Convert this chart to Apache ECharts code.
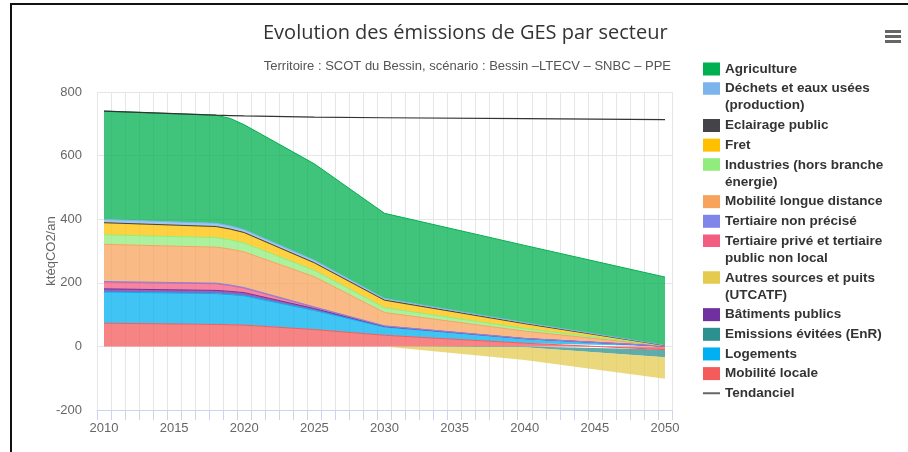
<!DOCTYPE html>
<html>
<head>
<meta charset="utf-8">
<script src="https://cdn.jsdelivr.net/npm/echarts@6/dist/echarts.min.js"></script>
<style>
  html, body { margin: 0; padding: 0; background: #fff; }
  #main { position: absolute; left: 0; top: 0; width: 908px; height: 452px; }
  .frame { position: absolute; left: 10px; top: 3px; right: 0; bottom: 0; border-left: 2px solid #111; border-top: 2px solid #111; pointer-events: none; }
</style>
</head>
<body>
<div id="main"></div>
<div class="frame"></div>
<script>
// axe des années (catégories)
const categories = ['2010', '2011', '2012', '2013', '2014', '2015', '2016', '2017', '2018', '2019',
  '2020', '2021', '2022', '2023', '2024', '2025', '2026', '2027', '2028', '2029', '2030',
  '2031', '2032', '2033', '2034', '2035', '2036', '2037', '2038', '2039', '2040',
  '2041', '2042', '2043', '2044', '2045', '2046', '2047', '2048', '2049', '2050'];

// années clés
const years = ['2010', '2018', '2019', '2020', '2025', '2030', '2040', '2050'];

const agriculture      = [341, 340, 338, 330, 303, 268, 243, 214];
const dechets          = [10, 10, 10, 9, 8, 5, 3, 1];
const eclairage        = [1, 1, 1, 1, 1, 1, 0.5, 0.3];
const fret             = [37, 34, 33, 32, 23, 23, 15, 0.5];
const industries       = [30, 30, 29, 28, 20, 15, 8, 0.5];
const mobiliteLD       = [117, 113, 113, 112, 95, 42, 23, 0.5];
const tertiaireNP      = [2, 2, 2, 2, 1, 0.5, 0.3, 0.3];
const tertiairePrive   = [21, 21, 18, 14, 4, 1, 0.3, 0.3];
const autresSources    = [0, 0, 0, 0, 0, 0, -40, -68];
const batiments        = [10, 10, 10, 10, 6, 2, 0.5, 0.3];
const emissionsEvitees = [0, 0, 0, 0, 0, 0, -3, -24];
const logements        = [98, 97, 95, 92, 60, 26, 14, 0.3];
const mobiliteLocale   = [73, 69, 68, 67, 53, 35, 10, -10];
const tendanciel       = [740, 727, 726, 725, 721, 719, 716, 713];

// ordre d'empilement : du bas vers le haut
const sectors = [
  { name: 'Mobilité locale', color: '#F45B5B', data: mobiliteLocale },
  { name: 'Logements', color: '#00B0F0', data: logements },
  { name: 'Emissions évitées (EnR)', color: '#2B908F', data: emissionsEvitees, neg: true },
  { name: 'Bâtiments publics', color: '#7030A0', data: batiments },
  { name: 'Autres sources et puits (UTCATF)', color: '#E4CB50', data: autresSources, neg: true },
  { name: 'Tertiaire privé et tertiaire public non local', color: '#F15C80', data: tertiairePrive },
  { name: 'Tertiaire non précisé', color: '#8085E9', data: tertiaireNP },
  { name: 'Mobilité longue distance', color: '#F7A35C', data: mobiliteLD },
  { name: 'Industries (hors branche énergie)', color: '#90ED7D', data: industries },
  { name: 'Fret', color: '#FFC000', data: fret },
  { name: 'Eclairage public', color: '#434348', data: eclairage },
  { name: 'Déchets et eaux usées (production)', color: '#7CB5EC', data: dechets },
  { name: 'Agriculture', color: '#00B050', data: agriculture }
];

const legendLabels = [
  'Agriculture',
  'Déchets et eaux usées\n(production)',
  'Eclairage public',
  'Fret',
  'Industries (hors branche\nénergie)',
  'Mobilité longue distance',
  'Tertiaire non précisé',
  'Tertiaire privé et tertiaire\npublic non local',
  'Autres sources et puits\n(UTCATF)',
  'Bâtiments publics',
  'Emissions évitées (EnR)',
  'Logements',
  'Mobilité locale',
  'Tendanciel'
];

const font = 'Liberation Sans, Arial, sans-serif';
const twoLineIcon = 'path://M0,0H17V12.5H0Z M0,30H0.01V30.01H0Z';

let cy = 69;
const legends = legendLabels.map(function (label) {
  const lines = label.split('\n').length;
  const name = label.replace('\n', ' ');
  const isLine = name === 'Tendanciel';
  const lg = {
    data: [name],
    formatter: label,
    orient: 'vertical',
    left: 703,
    top: cy - 8.5,
    padding: 0,
    itemWidth: 17,
    itemHeight: isLine ? 2 : (lines > 1 ? 30 : 13),
    icon: lines > 1 ? twoLineIcon : 'rect',
    itemStyle: { borderWidth: 0 },
    textStyle: { fontFamily: font, fontSize: 13.5, fontWeight: 'bold', color: '#333', lineHeight: 17 }
  };
  cy += 19.65 + 17.2 * (lines - 1);
  return lg;
});

const series = sectors.map(function (s) {
  return {
    name: s.name,
    type: 'line',
    stack: 'ges',
    stackStrategy: s.neg ? 'negative' : 'samesign',
    data: years.map(function (y, i) { return [y, s.data[i]]; }),
    symbol: 'none',
    itemStyle: { color: s.color },
    lineStyle: { width: s.neg ? 0 : 1 },
    areaStyle: { opacity: 0.75 },
    emphasis: { disabled: true }
  };
});
series.push({
  name: 'Tendanciel',
  type: 'line',
  data: years.map(function (y, i) { return [y, tendanciel[i]]; }),
  symbol: 'none',
  itemStyle: { color: '#666' },
  lineStyle: { width: 1.2, color: '#333' },
  z: 5
});

const chart = echarts.init(document.getElementById('main'));
chart.setOption({
  animation: false,
  title: [
    {
      text: 'Evolution des émissions de GES par secteur',
      left: 263, top: 23, padding: 0,
      textStyle: { fontFamily: 'Open Sans, sans-serif', fontSize: 20, fontWeight: 'normal', color: '#333' }
    },
    {
      text: 'Territoire : SCOT du Bessin, scénario : Bessin –LTECV – SNBC – PPE',
      right: 237, top: 60, padding: 0,
      textStyle: { fontFamily: font, fontSize: 13, fontWeight: 'normal', color: '#555' }
    }
  ],
  legend: legends,
  grid: { left: 97, right: 236, top: 92, bottom: 42 },
  xAxis: {
    type: 'category',
    data: categories,
    boundaryGap: true,
    axisLine: { onZero: false, lineStyle: { color: '#ccd6eb' } },
    axisTick: { show: true, interval: 0, length: 10, lineStyle: { color: '#ccd6eb' } },
    axisLabel: { interval: 4, color: '#666', fontSize: 13, fontFamily: font, margin: 12 },
    splitLine: { show: true, interval: 0, lineStyle: { color: '#e6e6e6' } }
  },
  yAxis: {
    type: 'value',
    min: -200,
    max: 800,
    interval: 200,
    name: 'ktéqCO2/an',
    nameLocation: 'middle',
    nameGap: 39,
    nameMoveOverlap: false,
    nameTextStyle: { color: '#666', fontSize: 13, fontFamily: font },
    axisLine: { show: false },
    axisTick: { show: false },
    axisLabel: { color: '#666', fontSize: 13, fontFamily: font, margin: 15 },
    splitLine: { lineStyle: { color: '#e6e6e6' } }
  },
  graphic: [0, 5, 10].map(function (dy) {
    return { type: 'rect', shape: { x: 885, y: 30 + dy, width: 16, height: 3 }, style: { fill: '#666' } };
  }),
  series: series
});
</script>
</body>
</html>
